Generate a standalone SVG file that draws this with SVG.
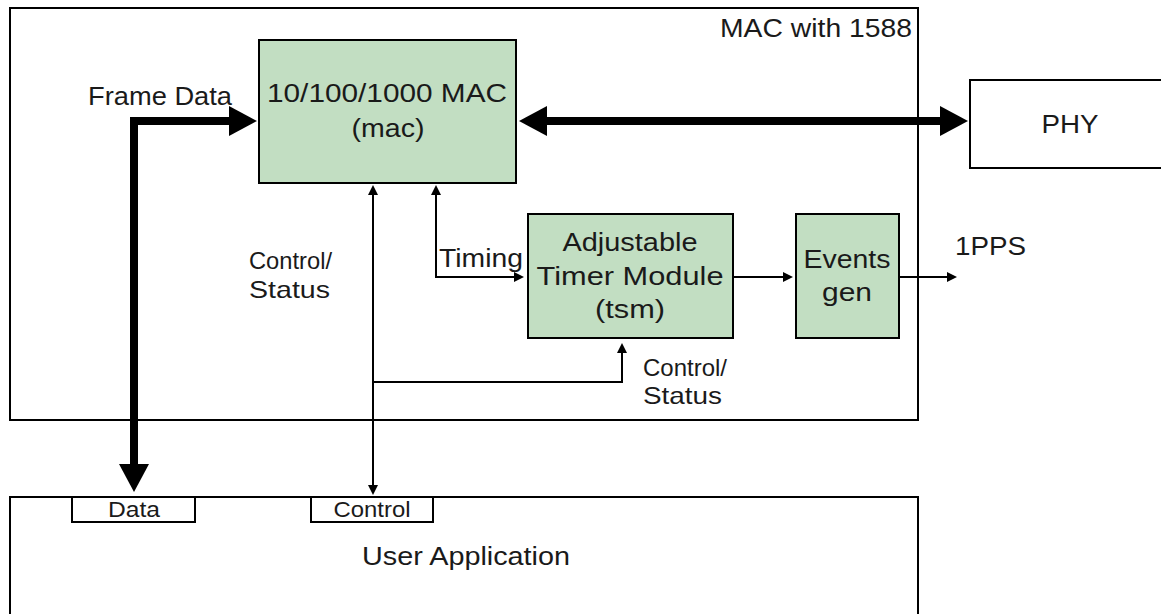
<svg xmlns="http://www.w3.org/2000/svg" width="1161" height="614" viewBox="0 0 1161 614">
<style>
text{font-family:"Liberation Sans",Arial,sans-serif;font-size:26px;fill:#1a1a1a}
.sm{font-size:22px}
.md{font-size:24px}
.box{fill:#fff;stroke:#000;stroke-width:2}
.g{fill:#c2dec2;stroke:#000;stroke-width:2}
.thick{fill:none;stroke:#000;stroke-width:8;stroke-linejoin:miter}
.thin{fill:none;stroke:#000;stroke-width:2}
.c{text-anchor:middle}
</style>
<defs>
<marker id="big" markerUnits="userSpaceOnUse" markerWidth="30" markerHeight="32" refX="0" refY="15" orient="auto-start-reverse"><path d="M0,0 L28,15 L0,30 z" fill="#000"/></marker>
<marker id="sml" markerUnits="userSpaceOnUse" markerWidth="12" markerHeight="12" refX="0" refY="5" orient="auto-start-reverse"><path d="M0,0 L10,5 L0,10 z" fill="#000"/></marker>
</defs>
<g id="mac1588">
<rect class="box" x="10" y="8" width="908" height="412"/>
<text x="912" y="37" text-anchor="end" textLength="192" lengthAdjust="spacingAndGlyphs">MAC with 1588</text>
</g>
<g id="user">
<rect class="box" x="10" y="497" width="908" height="130"/>
<text class="c" x="466" y="565" textLength="208" lengthAdjust="spacingAndGlyphs">User Application</text>
</g>
<g id="data">
<rect class="box" x="72" y="497" width="123" height="25"/>
<text class="c sm" x="134" y="517" textLength="52" lengthAdjust="spacingAndGlyphs">Data</text>
</g>
<g id="control">
<rect class="box" x="311" y="497" width="122" height="25"/>
<text class="c sm" x="372" y="517" textLength="77" lengthAdjust="spacingAndGlyphs">Control</text>
</g>
<g id="mac">
<rect class="g" x="259" y="40" width="257" height="143"/>
<text class="c" x="387" y="102" textLength="240" lengthAdjust="spacingAndGlyphs">10/100/1000 MAC</text>
<text class="c" x="388" y="137" textLength="73" lengthAdjust="spacingAndGlyphs">(mac)</text>
</g>
<g id="phy">
<rect class="box" x="970" y="80" width="200" height="88"/>
<text class="c" x="1070" y="133" textLength="57" lengthAdjust="spacingAndGlyphs">PHY</text>
</g>
<g id="tsm">
<rect class="g" x="528" y="214" width="205" height="124"/>
<text class="c" x="630" y="251" textLength="135" lengthAdjust="spacingAndGlyphs">Adjustable</text>
<text class="c" x="630" y="285" textLength="187" lengthAdjust="spacingAndGlyphs">Timer Module</text>
<text class="c" x="630" y="318" textLength="70" lengthAdjust="spacingAndGlyphs">(tsm)</text>
</g>
<g id="events">
<rect class="g" x="796" y="214" width="103" height="124"/>
<text class="c" x="847" y="268" textLength="87" lengthAdjust="spacingAndGlyphs">Events</text>
<text class="c" x="847" y="301" textLength="50" lengthAdjust="spacingAndGlyphs">gen</text>
</g>
<g id="connectors">
<path class="thick" d="M134,464 V121 H229" marker-start="url(#big)" marker-end="url(#big)"/>
<path class="thick" d="M547,121 H940" marker-start="url(#big)" marker-end="url(#big)"/>
<path class="thin" d="M373,195 V485" marker-start="url(#sml)" marker-end="url(#sml)"/>
<path class="thin" d="M436,195 V277 H514" marker-start="url(#sml)" marker-end="url(#sml)"/>
<path class="thin" d="M373,382 H622 V353" marker-end="url(#sml)"/>
<path class="thin" d="M733,277 H783" marker-end="url(#sml)"/>
<path class="thin" d="M899,277 H947" marker-end="url(#sml)"/>
<text x="88" y="105" textLength="144" lengthAdjust="spacingAndGlyphs">Frame Data</text>
<text class="md" x="249" y="269" textLength="83" lengthAdjust="spacingAndGlyphs">Control/</text>
<text class="md" x="249" y="298" textLength="81" lengthAdjust="spacingAndGlyphs">Status</text>
<text x="439" y="267" textLength="84" lengthAdjust="spacingAndGlyphs">Timing</text>
<text class="md" x="643" y="376" textLength="84" lengthAdjust="spacingAndGlyphs">Control/</text>
<text class="md" x="643" y="404" textLength="79" lengthAdjust="spacingAndGlyphs">Status</text>
<text x="955" y="255" textLength="71" lengthAdjust="spacingAndGlyphs">1PPS</text>
</g>
</svg>
